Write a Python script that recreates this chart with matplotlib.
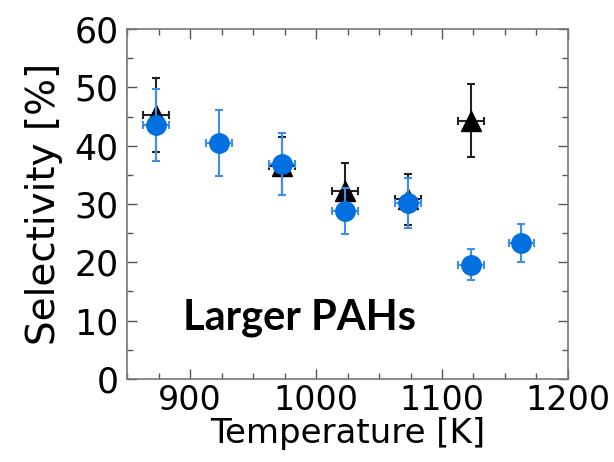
import matplotlib
matplotlib.use("Agg")
import matplotlib.pyplot as plt
from matplotlib.ticker import MultipleLocator

# Selectivity to larger PAHs vs temperature
temp_blue = [873, 923, 973, 1023, 1073, 1123, 1163]
sel_blue = [43.5, 40.5, 36.9, 28.8, 30.2, 19.6, 23.3]
err_blue = [6.2, 5.7, 5.3, 3.9, 4.3, 2.7, 3.2]

temp_black = [873, 973, 1023, 1073, 1123]
sel_black = [45.3, 36.5, 32.3, 30.8, 44.3]
err_black = [6.3, 5.0, 4.7, 4.4, 6.2]

temp_err = 10  # K, same for every point

blue = "#0070e0"
blue_err = "#3d8fe8"

fig = plt.figure(figsize=(6.14, 4.62), dpi=100)
ax = fig.add_axes([0.207, 0.18, 0.718, 0.757])

ax.errorbar(temp_black, sel_black, yerr=err_black, xerr=temp_err,
            fmt="^", color="black", ecolor="#222222", markersize=14,
            elinewidth=1.5, capsize=3, capthick=1.5, zorder=2)
ax.errorbar(temp_blue, sel_blue, yerr=err_blue, xerr=temp_err,
            fmt="o", color=blue, ecolor=blue_err, markersize=14,
            elinewidth=1.5, capsize=3, capthick=1.5, zorder=3)

ax.set_xlim(850, 1200)
ax.set_ylim(0, 60)
ax.xaxis.set_major_locator(MultipleLocator(100))
ax.xaxis.set_minor_locator(MultipleLocator(25))
ax.yaxis.set_major_locator(MultipleLocator(10))
ax.yaxis.set_minor_locator(MultipleLocator(5))
ax.tick_params(which="both", direction="in", top=True, right=True,
               color="#555555", width=1)
ax.tick_params(which="major", length=7, labelsize=25)
ax.tick_params(axis="x", which="major", labelsize=24, pad=4)
ax.tick_params(axis="y", which="major", pad=6)
ax.tick_params(which="minor", length=4)
for sp in ax.spines.values():
    sp.set_color("#777777")
    sp.set_linewidth(1.2)

ax.set_xlabel("Temperature [K]", fontsize=24.5, labelpad=-0.5)
ax.set_ylabel("Selectivity [%]", fontsize=28, labelpad=8)

ax.text(894, 10.4, "Larger PAHs", fontsize=30, fontweight="bold",
        family=["Lato", "DejaVu Sans"], ha="left", va="center")

fig.savefig("out.png", dpi=100)
